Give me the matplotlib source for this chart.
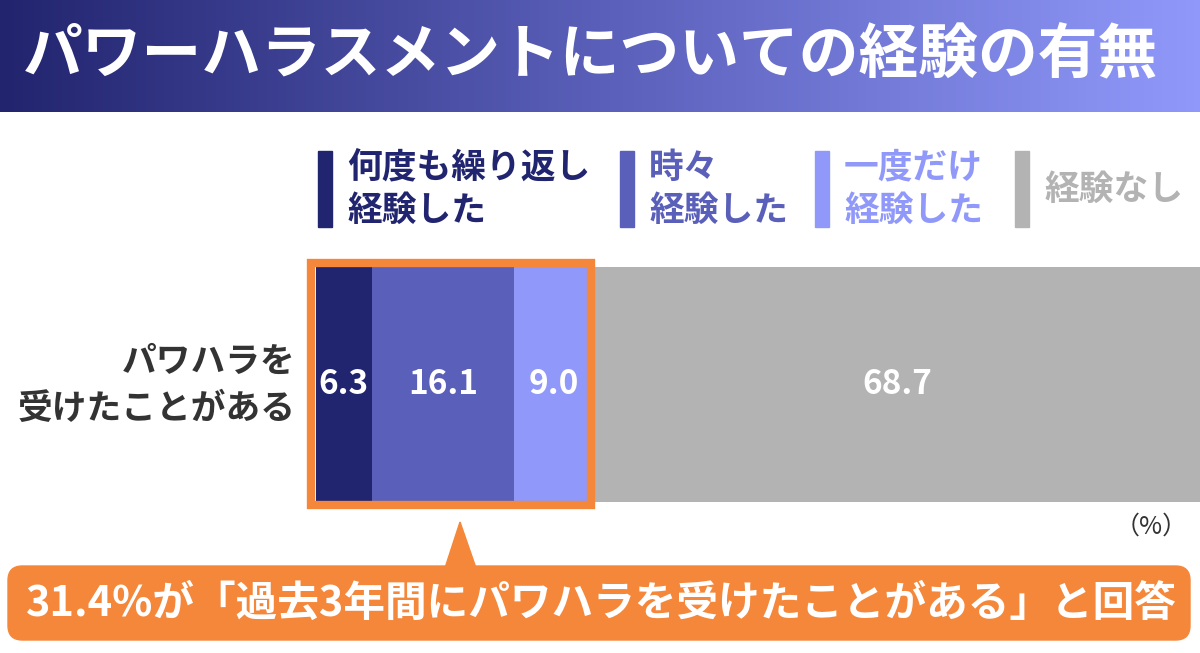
import numpy as np
import matplotlib
matplotlib.use("Agg")
import matplotlib.pyplot as plt
from matplotlib.patches import Rectangle, FancyBboxPatch, Polygon

plt.rcParams['font.family'] = ['Noto Sans CJK JP', 'DejaVu Sans']

title = "パワーハラスメントについての経験の有無"
category = "パワハラを\n受けたことがある"
series_labels = ["何度も繰り返し\n経験した", "時々\n経験した", "一度だけ\n経験した", "経験なし"]
values = [6.3, 16.1, 9.0, 68.7]
colors = ["#21246e", "#5a5fb9", "#9099fa", "#b3b3b3"]
callout = "31.4%が「過去3年間にパワハラを受けたことがある」と回答"

W, H = 1200, 653
fig = plt.figure(figsize=(W / 100, H / 100), dpi=100)

def fx(px):
    return px / W

def fy(py):
    return 1 - py / H

# title bar with gradient
tax = fig.add_axes([0, fy(112), 1, 112 / H])
grad = np.linspace(0, 1, 256).reshape(1, -1)
cmap = matplotlib.colors.LinearSegmentedColormap.from_list("g", ["#22246e", "#5a5fb9", "#9099fa"])
tax.imshow(grad, aspect="auto", cmap=cmap, extent=[0, 1, 0, 1])
tax.set_axis_off()
tax.text(0.492, 0.5, title, color="white", fontsize=43, fontweight="bold",
         ha="center", va="center", transform=tax.transAxes)

# stacked bar
ax = fig.add_axes([fx(316), fy(502), fx(1200) - fx(316), (502 - 267) / H])
left = 0
for v, c in zip(values, colors):
    ax.barh(0, v, left=left, height=1, color=c, edgecolor="none")
    ax.text(left + v / 2, 0, f"{v:.1f}", color="white", fontsize=24, fontweight="bold",
            ha="center", va="center")
    left += v
ax.set_xlim(0, 100)
ax.set_ylim(-0.5, 0.5)
ax.set_axis_off()

# category label
fig.text(fx(296), fy(385), category, fontsize=25, fontweight="bold", color="#333333",
         ha="right", va="center", linespacing=1.4)

# legend
lx = [318, 620, 815, 1015]
for x, lab, c in zip(lx, series_labels, colors):
    fig.patches.append(Rectangle((fx(x), fy(227)), 14 / W, (227 - 151) / H,
                                 transform=fig.transFigure, color=c))
    fig.text(fx(x + 29), fy(189), lab, fontsize=25, fontweight="bold",
             color=c, ha="left", va="center", linespacing=1.3)

# orange highlight box around first three segments
orange = "#f5873a"
fig.patches.append(Rectangle((fx(311), fy(505)), (591 - 311) / W, (505 - 263) / H,
                             transform=fig.transFigure, fill=False, edgecolor=orange, linewidth=6))

fig.text(fx(1188), fy(527), "（%）", fontsize=18, color="#333333", ha="right", va="center")

# callout
fig.patches.append(Polygon([(fx(460), fy(522)), (fx(445), fy(568)), (fx(476), fy(568))],
                           closed=True, transform=fig.transFigure, color=orange))
fig.patches.append(FancyBboxPatch((fx(8), fy(640)), (1190 - 8) / W, (640 - 566) / H,
                                  boxstyle="round,pad=0,rounding_size=0.012",
                                  transform=fig.transFigure, color=orange, mutation_aspect=W / H))
fig.text(fx(601), fy(604), callout, fontsize=30, fontweight="bold", color="white",
         ha="center", va="center")

fig.savefig("out.png", dpi=100, facecolor="white")
